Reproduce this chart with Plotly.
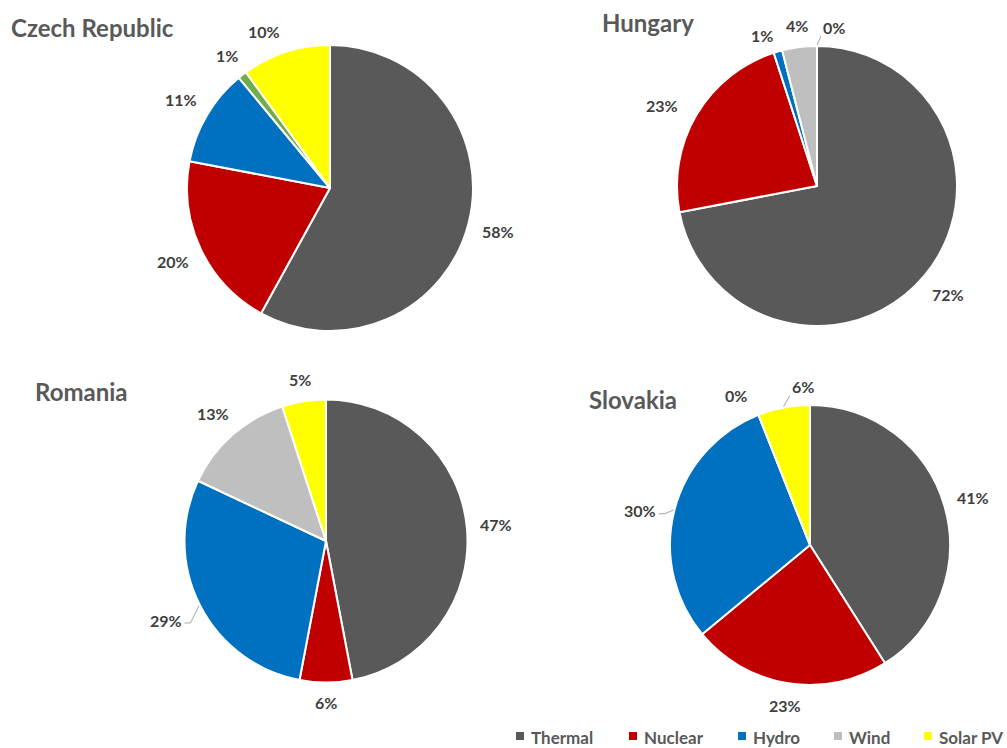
import math
import plotly.graph_objects as go

# ---------------- data ----------------
categories = ["Thermal", "Nuclear", "Hydro", "Wind", "Solar PV"]
countries = ["Czech Republic", "Hungary", "Romania", "Slovakia"]
czech_values = [58, 20, 11, 1, 10]
hungary_values = [72, 23, 1, 4, 0]
romania_values = [47, 6, 29, 13, 5]
slovakia_values = [41, 23, 30, 0, 6]

# ---------------- styling / layout ----------------
W, H = 1007, 748
base_colors = ["#595959", "#C00000", "#0070C0", "#BFBFBF", "#FFFF00"]
czech_colors = ["#595959", "#C00000", "#0070C0", "#70AD47", "#FFFF00"]

# pie geometry in pixels: centre x, centre y, radius
geom = {
    "Czech Republic": (330, 188, 143),
    "Hungary": (817, 186, 140),
    "Romania": (326, 541, 141.5),
    "Slovakia": (810, 545, 140),
}
title_pos = {
    "Czech Republic": (9, 27),
    "Hungary": (600, 22),
    "Romania": (33, 391),
    "Slovakia": (587, 399),
}
label_nudge = {
    ("Czech Republic", "Solar PV"): (-14, 3),
    ("Hungary", "Nuclear"): (-8, 6),
    ("Hungary", "Hydro"): (-10, 6),
    ("Hungary", "Solar PV"): (17, 1),
    ("Romania", "Hydro"): (-7, 1),
    ("Slovakia", "Hydro"): (-5, 8),
    ("Slovakia", "Wind"): (-14, 3),
    ("Slovakia", "Solar PV"): (23, 1),
}
leaders = {("Hungary", "Solar PV"), ("Romania", "Hydro"),
           ("Slovakia", "Hydro"), ("Slovakia", "Solar PV")}

# legend layout (pixels): symbol left edges and the row's vertical centre
legend_sym_x = [516, 629, 738, 834, 924]
legend_y = 736

series = {
    "Czech Republic": (czech_values, czech_colors),
    "Hungary": (hungary_values, base_colors),
    "Romania": (romania_values, base_colors),
    "Slovakia": (slovakia_values, base_colors),
}

FONT = "Lato"
fig = go.Figure()
annotations = []
shapes = []


def px(x):
    return x / W


def py(y):
    return 1 - y / H


for country in countries:
    vals, cols = series[country]
    cx, cy, r = geom[country]
    fig.add_trace(go.Pie(
        labels=categories,
        values=vals,
        name=country,
        sort=False,
        direction="clockwise",
        rotation=0,
        textinfo="none",
        hoverinfo="label+percent+name",
        marker=dict(colors=cols, line=dict(color="white", width=2)),
        domain=dict(x=[px(cx - r), px(cx + r)], y=[py(cy + r), py(cy - r)]),
        showlegend=False,
    ))
    total = sum(vals)
    cum = 0
    for cat, v in zip(categories, vals):
        mid = (cum + v / 2) / total * 2 * math.pi
        cum += v
        ux, uy = math.sin(mid), -math.cos(mid)
        text = f"{round(v / total * 100)}%"
        hw, hh = 5.5 * len(text), 8
        d = r + 12 + abs(ux) * hw + abs(uy) * hh
        lx, ly = cx + ux * d, cy + uy * d
        nx, ny = label_nudge.get((country, cat), (0, 0))
        lx, ly = lx + nx, ly + ny
        annotations.append(dict(
            x=px(lx), y=py(ly), xref="paper", yref="paper",
            text=text, showarrow=False, xanchor="center", yanchor="middle",
            font=dict(family=FONT, size=16, color="#404040", weight="bold"),
        ))
        if (country, cat) in leaders:
            ex, ey = cx + ux * (r + 1), cy + uy * (r + 1)
            if abs(ux) > abs(uy):
                side = 1 if ux < 0 else -1
                p1x = lx + side * (hw + 2)
                p1y = ly + 3
                p2x = p1x + side * 6
                path = f"M {px(p1x)} {py(p1y)} L {px(p2x)} {py(p1y)} L {px(ex)} {py(ey)}"
            else:
                bx = min(max(ex, lx - hw - 2), lx + hw + 2)
                by = ly + hh + 1 if uy < 0 else ly - hh - 1
                path = f"M {px(bx)} {py(by)} L {px(ex)} {py(ey)}"
            shapes.append(dict(type="path", path=path, xref="paper", yref="paper",
                               line=dict(color="#A6A6A6", width=1)))
    tx, ty = title_pos[country]
    annotations.append(dict(
        x=px(tx), y=py(ty), xref="paper", yref="paper", text=country,
        showarrow=False, xanchor="left", yanchor="middle",
        font=dict(family=FONT, size=24, color="#595959", weight="bold"),
    ))

# legend: coloured squares + labels
for cat, col, sx in zip(categories, base_colors, legend_sym_x):
    shapes.append(dict(type="rect", xref="paper", yref="paper",
                       x0=px(sx), x1=px(sx + 8),
                       y0=py(legend_y + 4), y1=py(legend_y - 4),
                       fillcolor=col, line=dict(width=0)))
    annotations.append(dict(
        x=px(sx + 13), y=py(legend_y + 1), xref="paper", yref="paper",
        text=cat, showarrow=False, xanchor="left", yanchor="middle",
        font=dict(family=FONT, size=17, color="#595959", weight="bold"),
    ))

fig.update_layout(
    width=W, height=H,
    margin=dict(l=0, r=0, t=0, b=0),
    paper_bgcolor="white",
    plot_bgcolor="white",
    font=dict(family=FONT),
    annotations=annotations,
    shapes=shapes,
    showlegend=False,
)

fig.write_html("out.html")
